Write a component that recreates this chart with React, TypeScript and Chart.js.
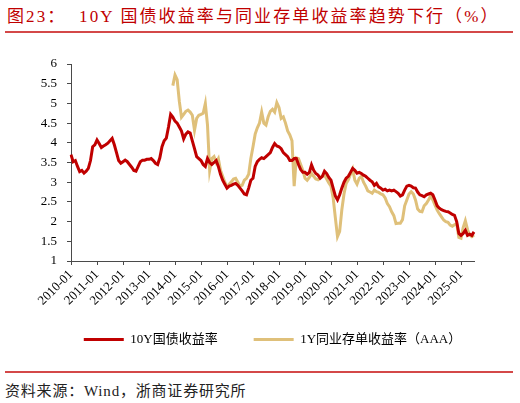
import React, { useEffect, useRef } from "react";
import { Chart, registerables } from "chart.js";

Chart.register(...registerables);

const FONT = "'Liberation Serif', 'Noto Sans CJK SC', serif";

// x axis: monthly, 2010-01 .. 2025-07, labelled every January
const firstYear = 2010;
const lastYear = 2025;
const lastMonth = 7;
const monthLabels: string[] = [];
for (let y = firstYear; y <= lastYear; y++) {
  for (let m = 1; m <= 12; m++) {
    if (y === lastYear && m > lastMonth) break;
    monthLabels.push(`${y}-${String(m).padStart(2, "0")}`);
  }
}

const yTicks = { min: 1, max: 6, step: 0.5 };

const seriesNames = ["10Y国债收益率", "1Y同业存单收益率（AAA）"];

// 10Y government bond yield, %, monthly
const yield10Y = [
  // 2010
  3.70, 3.52, 3.55, 3.40, 3.27, 3.30, 3.23, 3.28, 3.35, 3.55, 3.90, 3.95,
  // 2011
  4.07, 3.98, 3.88, 3.92, 3.95, 3.99, 4.05, 4.11, 3.95, 3.75, 3.55, 3.48,
  // 2012
  3.52, 3.56, 3.52, 3.45, 3.38, 3.30, 3.28, 3.40, 3.52, 3.56, 3.56, 3.58,
  // 2013
  3.58, 3.60, 3.55, 3.48, 3.45, 3.62, 3.90, 4.05, 4.12, 4.40, 4.72, 4.65,
  // 2014
  4.55, 4.50, 4.40, 4.30, 4.10, 4.22, 4.28, 4.25, 4.05, 3.85, 3.65, 3.60,
  // 2015
  3.55, 3.45, 3.40, 3.60, 3.50, 3.45, 3.50, 3.55, 3.40, 3.20, 3.05, 2.95,
  // 2016
  2.85, 2.90, 2.92, 2.95, 2.97, 2.92, 2.85, 2.78, 2.70, 2.68, 2.85, 3.05,
  // 2017
  3.10, 3.40, 3.52, 3.58, 3.62, 3.60, 3.65, 3.70, 3.75, 3.88, 3.98, 3.92,
  // 2018
  3.90, 3.85, 3.75, 3.70, 3.65, 3.55, 3.55, 3.60, 3.60, 3.45, 3.32, 3.25,
  // 2019
  3.25, 3.20, 3.25, 3.44, 3.30, 3.22, 3.18, 3.10, 3.15, 3.28, 3.22, 3.12,
  // 2020
  3.05, 2.85, 2.65, 2.55, 2.68, 2.85, 3.00, 3.10, 3.15, 3.25, 3.35, 3.30,
  // 2021
  3.23, 3.25, 3.22, 3.18, 3.15, 3.10, 3.05, 3.01, 2.92, 2.97, 2.88, 2.85,
  // 2022
  2.80, 2.82, 2.78, 2.80, 2.78, 2.80, 2.76, 2.72, 2.65, 2.68, 2.80, 2.90,
  // 2023
  2.92, 2.90, 2.86, 2.85, 2.75, 2.68, 2.66, 2.63, 2.68, 2.70, 2.72, 2.68,
  // 2024
  2.55, 2.40, 2.34, 2.30, 2.28, 2.26, 2.25, 2.22, 2.18, 2.16, 2.00, 1.70,
  // 2025
  1.65, 1.70, 1.78, 1.65, 1.68, 1.65, 1.74,
];

// 1Y interbank NCD yield (AAA), %, monthly; no data before 2013-12
const ncd1Y = [
  // 2010 - 2013-11
  ...Array(47).fill(null),
  // 2013-12
  5.45,
  // 2014
  5.72, 5.60, 5.05, 4.65, 4.72, 4.80, 4.83, 4.78, 4.70, 4.32, 4.62, 4.70,
  // 2015
  4.72, 4.75, 5.00, 4.45, 3.30, 3.60, 3.65, 3.50, 3.60, 3.30, 3.15, 3.00,
  // 2016
  2.88, 2.95, 3.01, 3.08, 3.10, 3.00, 2.90, 2.92, 3.05, 3.10, 3.20, 3.60,
  // 2017
  3.90, 4.22, 4.38, 4.50, 4.78, 4.50, 4.45, 4.66, 4.80, 4.85, 4.78, 5.02,
  // 2018
  4.90, 4.62, 4.66, 4.50, 4.30, 4.20, 4.05, 2.90, 3.62, 3.60, 3.45, 3.30,
  // 2019
  3.10, 3.05, 3.12, 3.22, 3.15, 3.08, 3.06, 3.12, 3.15, 3.18, 3.08, 2.98,
  // 2020
  2.90, 2.60, 2.10, 1.62, 1.75, 2.30, 2.70, 2.97, 3.06, 3.20, 3.33, 3.05,
  // 2021
  2.95, 3.10, 3.15, 3.00, 2.90, 2.78, 2.75, 2.72, 2.80, 2.76, 2.74, 2.70,
  // 2022
  2.68, 2.60, 2.46, 2.38, 2.25, 2.15, 1.95, 1.96, 1.96, 2.05, 2.40, 2.55,
  // 2023
  2.70, 2.76, 2.70, 2.55, 2.32, 2.26, 2.25, 2.40, 2.46, 2.55, 2.65, 2.55,
  // 2024
  2.42, 2.29, 2.20, 2.12, 2.04, 2.00, 1.98, 1.91, 1.88, 1.92, 1.95, 1.60,
  // 2025
  1.58, 1.85, 2.02, 1.80, 1.66, 1.62, 1.66,
];

const RED = "#C00000";
const GOLD = "#DFC07A";
const AXIS = "#4a4a4a";

const YieldChart: React.FC = () => {
  const canvasRef = useRef<HTMLCanvasElement | null>(null);
  const chartRef = useRef<Chart | null>(null);

  useEffect(() => {
    if (!canvasRef.current) return;
    if (chartRef.current) chartRef.current.destroy();
    const ctx = canvasRef.current.getContext("2d");
    if (!ctx) return;

    chartRef.current = new Chart(ctx, {
      type: "line",
      data: {
        labels: monthLabels,
        datasets: [
          {
            label: seriesNames[0],
            data: yield10Y,
            borderColor: RED,
            backgroundColor: RED,
            borderWidth: 3,
            pointRadius: 0,
            tension: 0,
          },
          {
            label: seriesNames[1],
            data: ncd1Y,
            borderColor: GOLD,
            backgroundColor: GOLD,
            borderWidth: 3,
            pointRadius: 0,
            tension: 0,
          },
        ],
      },
      options: {
        animation: false,
        responsive: true,
        maintainAspectRatio: false,
        events: [],
        layout: { padding: { top: 24, right: 46, left: 0, bottom: 4 } },
        plugins: {
          tooltip: { enabled: false },
          legend: {
            position: "bottom",
            fullSize: false,
            labels: {
              boxWidth: 40,
              boxHeight: 3,
              padding: 10,
              color: "#000",
              font: { family: FONT, size: 13 },
              generateLabels: (chart) =>
                chart.data.datasets.map((ds, i) => ({
                  text: (ds.label as string) + (i === 0 ? "\u3000\u3000" : ""),
                  fillStyle: ds.borderColor as string,
                  strokeStyle: ds.borderColor as string,
                  lineWidth: 0,
                  hidden: false,
                  datasetIndex: i,
                  fontColor: "#000",
                })),
            },
          },
        },
        scales: {
          x: {
            type: "category",
            offset: false,
            afterBuildTicks: (scale) => {
              scale.ticks = scale.ticks.filter((t) =>
                monthLabels[t.value].endsWith("-01")
              );
            },
            afterFit: (scale) => {
              scale.height = 62;
            },
            border: { display: true, color: AXIS, width: 1 },
            grid: {
              drawOnChartArea: false,
              drawTicks: true,
              tickLength: 4,
              tickColor: AXIS,
            },
            ticks: {
              autoSkip: false,
              maxRotation: 45,
              minRotation: 45,
              padding: 2,
              color: "#000",
              font: { family: FONT, size: 13 },
            },
          },
          y: {
            min: yTicks.min,
            max: yTicks.max,
            afterFit: (scale) => {
              scale.width = 71;
            },
            border: { display: true, color: AXIS, width: 1 },
            grid: {
              drawOnChartArea: false,
              drawTicks: true,
              tickLength: 4,
              tickColor: AXIS,
            },
            ticks: {
              stepSize: yTicks.step,
              padding: 10,
              color: "#000",
              font: { family: FONT, size: 13 },
              callback: (v) => `${Number(v)}`,
            },
          },
        },
      },
    });

    return () => {
      if (chartRef.current) {
        chartRef.current.destroy();
        chartRef.current = null;
      }
    };
  }, []);

  return <canvas ref={canvasRef} />;
};

const App: React.FC = () => {
  return (
    <div
      style={{
        position: "fixed",
        left: 0,
        top: 0,
        width: 520,
        height: 403,
        background: "#fff",
        fontFamily: FONT,
      }}
    >
      <div
        style={{
          position: "absolute",
          left: 7,
          top: 2,
          fontSize: 17,
          letterSpacing: 2.1,
          color: RED,
          whiteSpace: "pre",
        }}
      >
        {"图23：  10Y 国债收益率与同业存单收益率趋势下行（%）"}
      </div>
      <div
        style={{
          position: "absolute",
          left: 5,
          top: 31,
          width: 508,
          height: 1.5,
          background: "#D44848",
        }}
      />
      <div style={{ position: "absolute", left: 0, top: 40, width: 520, height: 320 }}>
        <YieldChart />
      </div>
      <div
        style={{
          position: "absolute",
          left: 5,
          top: 371,
          width: 508,
          height: 1.5,
          background: "#D44848",
        }}
      />
      <div
        style={{
          position: "absolute",
          left: 5,
          top: 379,
          fontSize: 15,
          letterSpacing: 0.8,
          color: "#222",
          whiteSpace: "pre",
        }}
      >
        {"资料来源：Wind，浙商证券研究所"}
      </div>
    </div>
  );
};

export default App;
